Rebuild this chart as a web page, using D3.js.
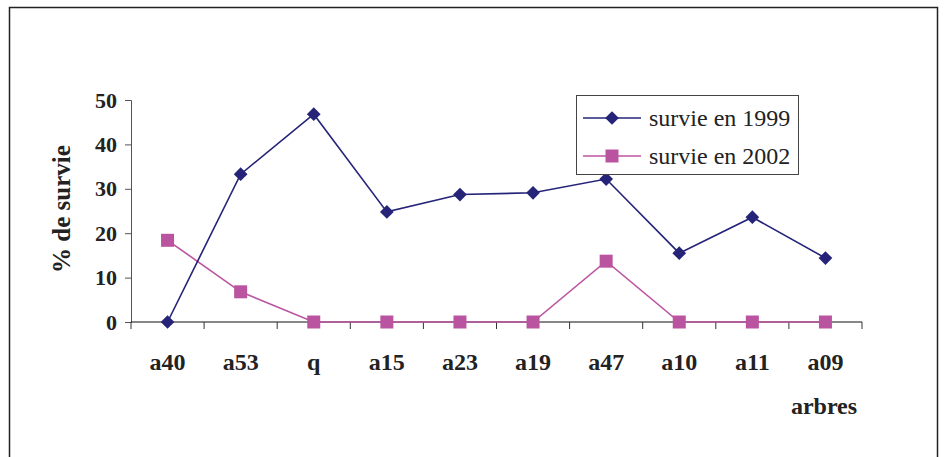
<!DOCTYPE html>
<html>
<head>
<meta charset="utf-8">
<script src="https://cdn.jsdelivr.net/npm/d3@7"></script>
<style>
  html, body { margin: 0; padding: 0; background: #fff; }
  svg { display: block; }
  svg text { font-family: "Liberation Serif", "DejaVu Serif", serif; }
</style>
</head>
<body>
<svg id="chart" width="946" height="457"></svg>
<script>
// Tree categories along the x axis
const categories = ["a40", "a53", "q", "a15", "a23", "a19", "a47", "a10", "a11", "a09"];
// Survival percentages per tree
const survie1999 = [0, 33.3, 46.8, 24.8, 28.7, 29.1, 32.2, 15.5, 23.6, 14.4];
const survie2002 = [18.4, 6.8, 0, 0, 0, 0, 13.7, 0, 0, 0];
const yTicks = [0, 10, 20, 30, 40, 50];
const seriesNames = ["survie en 1999", "survie en 2002"];

const navy = "#252479";
const magenta = "#bb54a0";

const svg = d3.select("#chart");

// Outer frame
svg.append("rect")
  .attr("x", 9.5).attr("y", 7.5)
  .attr("width", 928).attr("height", 470)
  .attr("fill", "none").attr("stroke", "#222").attr("stroke-width", 1.5);

const plot = { left: 131, right: 862, top: 100, bottom: 322 };

const x = d3.scaleBand().domain(categories).range([plot.left, plot.right]).padding(0);
const y = d3.scaleLinear().domain([0, 50]).range([plot.bottom, plot.top]);

// Y axis
const yAxis = svg.append("g")
  .attr("transform", `translate(${plot.left},0)`)
  .call(d3.axisLeft(y).tickValues(yTicks).tickSize(6).tickPadding(8));
yAxis.select(".domain").attr("stroke", "#555").attr("stroke-width", 1);
yAxis.selectAll(".tick line").attr("stroke", "#555");
yAxis.selectAll("text")
  .style("font-size", "22px").style("font-weight", "bold")
  .attr("fill", "#222");

// X axis with ticks between categories
const xAxisG = svg.append("g").attr("transform", `translate(0,${plot.bottom})`);
xAxisG.append("line")
  .attr("x1", plot.left).attr("x2", plot.right)
  .attr("stroke", "#111").attr("stroke-width", 1.2);
const boundaries = categories.map(c => x(c)).concat([plot.right]);
xAxisG.selectAll("line.tk").data(boundaries).join("line")
  .attr("class", "tk")
  .attr("x1", d => d).attr("x2", d => d)
  .attr("y1", 0).attr("y2", 7)
  .attr("stroke", "#333").attr("stroke-width", 1);
xAxisG.selectAll("text").data(categories).join("text")
  .attr("x", d => x(d) + x.bandwidth() / 2)
  .attr("y", 48)
  .attr("text-anchor", "middle")
  .style("font-size", "24px").style("font-weight", "bold")
  .attr("fill", "#222")
  .text(d => d);

// Axis titles
svg.append("text")
  .attr("transform", `translate(70,${(plot.top + plot.bottom) / 2 - 2}) rotate(-90)`)
  .attr("text-anchor", "middle")
  .style("font-size", "25px").style("font-weight", "bold")
  .attr("fill", "#222")
  .text("% de survie");
svg.append("text")
  .attr("x", 824).attr("y", 414)
  .attr("text-anchor", "middle")
  .style("font-size", "24px").style("font-weight", "bold")
  .attr("fill", "#222")
  .text("arbres");

const cx = d => x(d) + x.bandwidth() / 2;
const line = d3.line().x(d => cx(d.c)).y(d => y(d.v));

const data1999 = categories.map((c, i) => ({ c, v: survie1999[i] }));
const data2002 = categories.map((c, i) => ({ c, v: survie2002[i] }));

// 2002 series
svg.append("path").datum(data2002)
  .attr("d", line).attr("fill", "none")
  .attr("stroke", magenta).attr("stroke-width", 1.6);
svg.selectAll("rect.m2002").data(data2002).join("rect")
  .attr("class", "m2002")
  .attr("x", d => cx(d.c) - 6.5).attr("y", d => y(d.v) - 6.5)
  .attr("width", 13).attr("height", 13)
  .attr("fill", magenta);

// 1999 series
svg.append("path").datum(data1999)
  .attr("d", line).attr("fill", "none")
  .attr("stroke", navy).attr("stroke-width", 1.6);
const diamond = d3.symbol().type(d3.symbolDiamond2).size(120);
svg.selectAll("path.m1999").data(data1999).join("path")
  .attr("class", "m1999")
  .attr("transform", d => `translate(${cx(d.c)},${y(d.v)})`)
  .attr("d", diamond)
  .attr("fill", navy);

// Legend
const legend = svg.append("g");
legend.append("rect")
  .attr("x", 576.5).attr("y", 95.5).attr("width", 222).attr("height", 79)
  .attr("fill", "#fff").attr("stroke", "#444").attr("stroke-width", 1);
const legendRows = [
  { name: seriesNames[0], color: navy, y: 118, marker: "diamond" },
  { name: seriesNames[1], color: magenta, y: 156, marker: "square" }
];
legendRows.forEach(r => {
  legend.append("line")
    .attr("x1", 583).attr("x2", 641).attr("y1", r.y).attr("y2", r.y)
    .attr("stroke", r.color).attr("stroke-width", 1.6);
  if (r.marker === "diamond") {
    legend.append("path")
      .attr("transform", `translate(612,${r.y})`)
      .attr("d", diamond).attr("fill", r.color);
  } else {
    legend.append("rect")
      .attr("x", 605.5).attr("y", r.y - 6.5).attr("width", 13).attr("height", 13)
      .attr("fill", r.color);
  }
  legend.append("text")
    .attr("x", 649).attr("y", r.y + 8)
    .style("font-size", "24px")
    .attr("fill", "#222")
    .text(r.name);
});
</script>
</body>
</html>
